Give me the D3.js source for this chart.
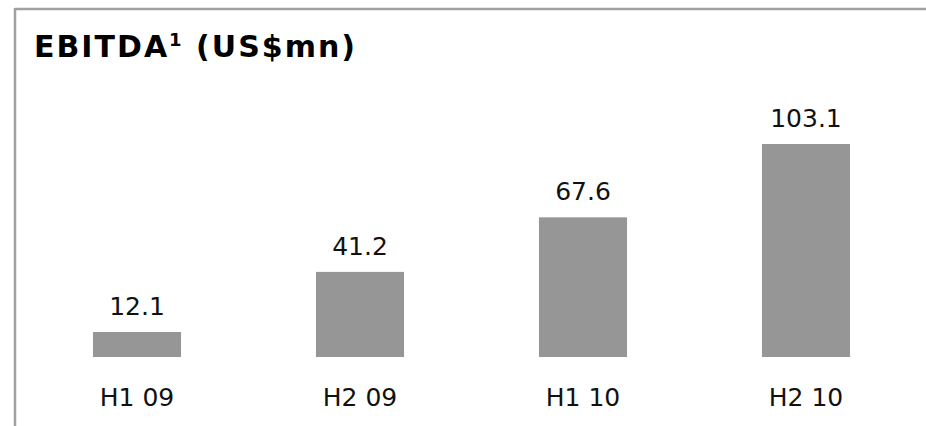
<!DOCTYPE html>
<html>
<head>
<meta charset="utf-8">
<script src="https://cdn.jsdelivr.net/npm/d3@7/dist/d3.min.js"></script>
<style>
  html, body { margin: 0; padding: 0; background: #fff; }
  svg { display: block; }
</style>
</head>
<body>
<svg id="chart" width="926" height="426"></svg>
<script>
// EBITDA by half-year, US$ millions
const periods = ["H1 09", "H2 09", "H1 10", "H2 10"];
const ebitda = [12.1, 41.2, 67.6, 103.1];
const valueLabels = ["12.1", "41.2", "67.6", "103.1"];

const svg = d3.select("#chart");
const font = "'DejaVu Sans', Verdana, sans-serif";

// frame: top and left rules
svg.append("line").attr("x1", 15).attr("x2", 926).attr("y1", 9).attr("y2", 9)
  .attr("stroke", "#a0a0a0").attr("stroke-width", 2.5);
svg.append("line").attr("x1", 15).attr("x2", 15).attr("y1", 8).attr("y2", 426)
  .attr("stroke", "#a0a0a0").attr("stroke-width", 2.5);

// title
const title = svg.append("text").attr("x", 34).attr("y", 57)
  .attr("font-family", font).attr("font-weight", "bold").attr("font-size", 30)
  .attr("letter-spacing", 2).attr("fill", "#000");
title.append("tspan").text("EBITDA");
title.append("tspan").attr("font-size", 18).attr("dy", -11).text("1");
title.append("tspan").attr("dy", 11).text(" (US$mn)");

const x = d3.scaleBand().domain(periods).range([25.5, 917.5])
  .paddingInner(0.605).paddingOuter(0.3025);
const y = d3.scaleLinear().domain([0, d3.max(ebitda)]).range([357, 144]);

const data = periods.map((p, i) => ({ p, v: ebitda[i], label: valueLabels[i] }));

svg.append("g").selectAll("rect").data(data).join("rect")
  .attr("x", d => x(d.p)).attr("width", x.bandwidth())
  .attr("y", d => y(d.v)).attr("height", d => y(0) - y(d.v))
  .attr("fill", "#969696");

svg.append("g").selectAll("text").data(data).join("text")
  .attr("x", d => x(d.p) + x.bandwidth() / 2).attr("y", d => y(d.v) - 17)
  .attr("text-anchor", "middle").attr("font-family", font).attr("font-size", 25)
  .attr("fill", "#111").text(d => d.label);

// category axis (labels only)
const axis = svg.append("g").attr("transform", "translate(0,406)")
  .call(d3.axisBottom(x).tickSize(0).tickPadding(0));
axis.select(".domain").remove();
axis.selectAll("text").attr("dy", 0).attr("font-family", font)
  .attr("font-size", 25).attr("fill", "#111");
</script>
</body>
</html>
